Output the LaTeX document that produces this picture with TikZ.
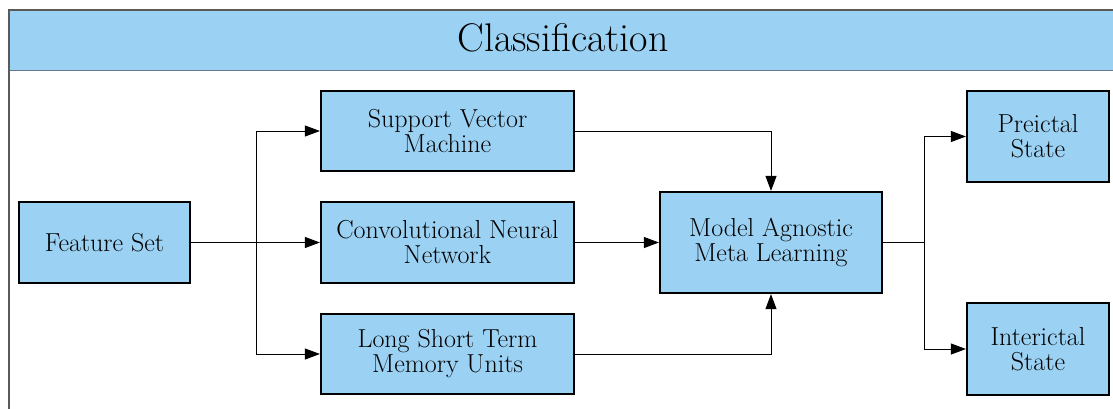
\documentclass[tikz,border=0pt]{standalone}
\usetikzlibrary{arrows.meta}
\definecolor{boxblue}{RGB}{155,209,242}
\definecolor{framegray}{RGB}{90,90,90}
\definecolor{bandline}{RGB}{100,120,140}
\begin{document}
\begin{tikzpicture}[x=1pt,y=-1pt,
  blockbox/.style={draw=black,line width=2.2pt,fill=boxblue,inner sep=0pt,
    align=center,font=\fontsize{26}{25}\selectfont},
  flow/.style={draw=black,line width=0.9pt,-{Triangle[length=15pt,width=11pt]}},
  plainline/.style={draw=black,line width=0.9pt}]
  \useasboundingbox (0,0) rectangle (1113,408);
  \clip (0,0) rectangle (1113,408);
  % outer frame and title band
  \fill[boxblue] (9,10) rectangle (1130,70);
  \draw[bandline,line width=1pt] (9,70) -- (1130,70);
  \draw[framegray,line width=1.4pt] (9,420) -- (9,10) -- (1130,10);
  \node (title) at (563,38) {\fontsize{40}{44}\selectfont Classification};
  % blocks
  \node[blockbox,minimum width=171pt,minimum height=81pt] (fs) at (104.5,242.5) {Feature Set};
  \node[blockbox,minimum width=253pt,minimum height=80pt] (svm) at (447.5,131) {Support Vector\\Machine};
  \node[blockbox,minimum width=253pt,minimum height=81pt] (cnn) at (447.5,242.5) {Convolutional Neural\\Network};
  \node[blockbox,minimum width=253pt,minimum height=80pt] (lstm) at (447.5,354) {Long Short Term\\Memory Units};
  \node[blockbox,minimum width=222pt,minimum height=101pt] (maml) at (771,242.5) {Model Agnostic\\Meta Learning};
  \node[blockbox,minimum width=142pt,minimum height=91pt] (pre) at (1038,136.5) {Preictal\\State};
  \node[blockbox,minimum width=142pt,minimum height=92pt] (inter) at (1038,349) {Interictal\\State};
  % branch points
  \coordinate (split) at (256,242.5);
  \coordinate (merge) at (924,242.5);
  % connectors
  \draw[flow] (fs.east) -- (cnn.west);
  \draw[plainline] (split |- svm.west) -- (split |- lstm.west);
  \draw[flow] (split |- svm.west) -- (svm.west);
  \draw[flow] (split |- lstm.west) -- (lstm.west);
  \draw[flow] (svm.east) -| (maml.north);
  \draw[flow] (cnn.east) -- (maml.west);
  \draw[flow] (lstm.east) -| (maml.south);
  \draw[plainline] (maml.east) -- (merge);
  \draw[plainline] (merge |- pre.west) -- (merge |- inter.west);
  \draw[flow] (merge |- pre.west) -- (pre.west);
  \draw[flow] (merge |- inter.west) -- (inter.west);
\end{tikzpicture}
\end{document}
